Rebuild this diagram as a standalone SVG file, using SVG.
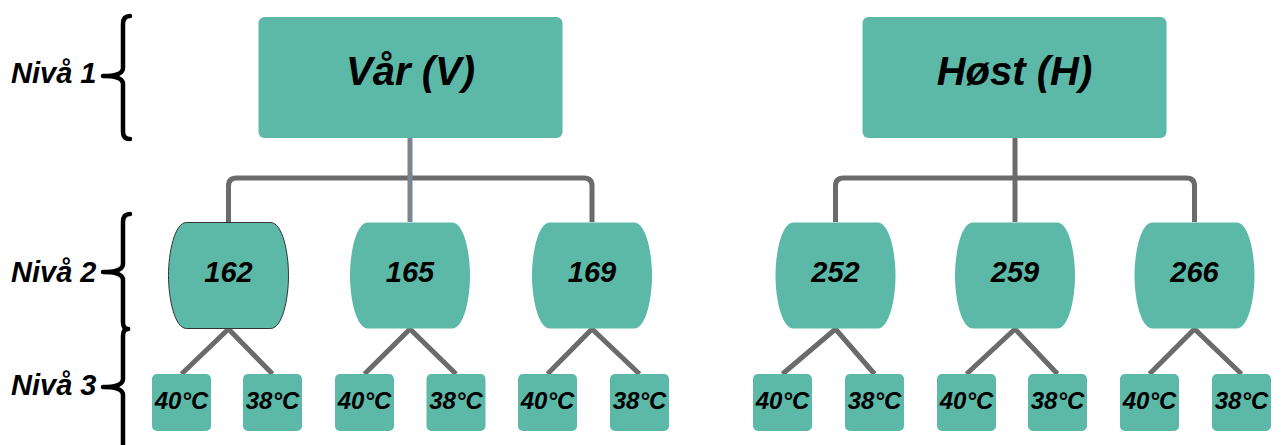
<svg xmlns="http://www.w3.org/2000/svg" width="1281" height="445" viewBox="0 0 1281 445">
<style>
.box{fill:#5cb9a8}
.t{font-family:"Liberation Sans",Arial,sans-serif;font-weight:bold;font-style:italic;fill:#000;text-anchor:middle}
.t1{font-size:40px}
.t2{font-size:29px}
.t3{font-size:24px}
.lv{font-family:"Liberation Sans",Arial,sans-serif;font-weight:bold;font-style:italic;font-size:29px;fill:#000}
.c{fill:none;stroke:#6b6b6b;stroke-width:5}
.cv{fill:none;stroke:#7b8591;stroke-width:5}
.br{fill:none;stroke:#000;stroke-width:4.5;stroke-linejoin:round;stroke-linecap:round}
</style>
<defs>
<path id="barrel" d="M18 0 H102 C114 0 120 30 120 53 C120 76 114 106 102 106 H18 C6 106 0 76 0 53 C0 30 6 0 18 0 Z"/>
</defs>

<g id="levels">
<text class="lv" x="11" y="83">Nivå 1</text>
<text class="lv" x="11" y="282">Nivå 2</text>
<text class="lv" x="11" y="395">Nivå 3</text>
<path class="br" d="M130 16 Q123 16 123 24 L123 68 Q123 76 103 76 Q123 76 123 84 L123 132 Q123 139 130 139"/>
<path class="br" d="M130 214 Q123 214 123 222 L123 264 Q123 272 103 272 Q123 272 123 280 L123 322 Q123 329 128 329"/>
<path class="br" d="M128 329 Q123 329 123 336 L123 379 Q123 387 103 387 Q123 387 123 395 L123 447"/>
</g>

<g id="connectors">
<path class="c" d="M228.5 222 V186 Q228.5 178 236.5 178 H584 Q592 178 592 186 V222"/>
<path class="cv" d="M410 138 V222"/>
<path class="c" d="M835.5 222 V186 Q835.5 178 843.5 178 H1186.5 Q1194.5 178 1194.5 186 V222"/>
<path class="c" d="M1015 138 V222"/>
<path class="c" d="M181.5 374 L228.5 329 L272.5 374"/>
<path class="c" d="M364.5 374 L410 329 L456 374"/>
<path class="c" d="M547.5 374 L592 329 L639.5 374"/>
<path class="c" d="M782.5 374 L835.5 329 L874.5 374"/>
<path class="c" d="M966.5 374 L1015 329 L1057.5 374"/>
<path class="c" d="M1149.5 374 L1194.5 329 L1241.5 374"/>
</g>

<g id="n-var"><rect class="box" x="258.5" y="17" width="304" height="121" rx="6"/><text class="t t1" x="410.5" y="85">Vår (V)</text></g>
<g id="n-host"><rect class="box" x="862.5" y="17" width="304" height="121" rx="6"/><text class="t t1" x="1014.5" y="85">Høst (H)</text></g>

<g id="n-162"><use href="#barrel" x="168.5" y="222.5" class="box" stroke="#333" stroke-width="1"/><text class="t t2" x="228.5" y="282">162</text></g>
<g id="n-165"><use href="#barrel" x="350" y="222.5" class="box"/><text class="t t2" x="410" y="282">165</text></g>
<g id="n-169"><use href="#barrel" x="532" y="222.5" class="box"/><text class="t t2" x="592" y="282">169</text></g>
<g id="n-252"><use href="#barrel" x="775.5" y="222.5" class="box"/><text class="t t2" x="835.5" y="282">252</text></g>
<g id="n-259"><use href="#barrel" x="955" y="222.5" class="box"/><text class="t t2" x="1015" y="282">259</text></g>
<g id="n-266"><use href="#barrel" x="1134.5" y="222.5" class="box"/><text class="t t2" x="1194.5" y="282">266</text></g>

<g id="n-162-40"><rect class="box" x="152" y="374" width="59" height="57" rx="5"/><text class="t t3" x="181.5" y="408.5">40°C</text></g>
<g id="n-162-38"><rect class="box" x="243" y="374" width="59" height="57" rx="5"/><text class="t t3" x="272.5" y="408.5">38°C</text></g>
<g id="n-165-40"><rect class="box" x="335" y="374" width="59" height="57" rx="5"/><text class="t t3" x="364.5" y="408.5">40°C</text></g>
<g id="n-165-38"><rect class="box" x="426.5" y="374" width="59" height="57" rx="5"/><text class="t t3" x="456" y="408.5">38°C</text></g>
<g id="n-169-40"><rect class="box" x="518" y="374" width="59" height="57" rx="5"/><text class="t t3" x="547.5" y="408.5">40°C</text></g>
<g id="n-169-38"><rect class="box" x="610" y="374" width="59" height="57" rx="5"/><text class="t t3" x="639.5" y="408.5">38°C</text></g>
<g id="n-252-40"><rect class="box" x="753" y="374" width="59" height="57" rx="5"/><text class="t t3" x="782.5" y="408.5">40°C</text></g>
<g id="n-252-38"><rect class="box" x="845" y="374" width="59" height="57" rx="5"/><text class="t t3" x="874.5" y="408.5">38°C</text></g>
<g id="n-259-40"><rect class="box" x="937" y="374" width="59" height="57" rx="5"/><text class="t t3" x="966.5" y="408.5">40°C</text></g>
<g id="n-259-38"><rect class="box" x="1028" y="374" width="59" height="57" rx="5"/><text class="t t3" x="1057.5" y="408.5">38°C</text></g>
<g id="n-266-40"><rect class="box" x="1120" y="374" width="59" height="57" rx="5"/><text class="t t3" x="1149.5" y="408.5">40°C</text></g>
<g id="n-266-38"><rect class="box" x="1212" y="374" width="59" height="57" rx="5"/><text class="t t3" x="1241.5" y="408.5">38°C</text></g>
</svg>
